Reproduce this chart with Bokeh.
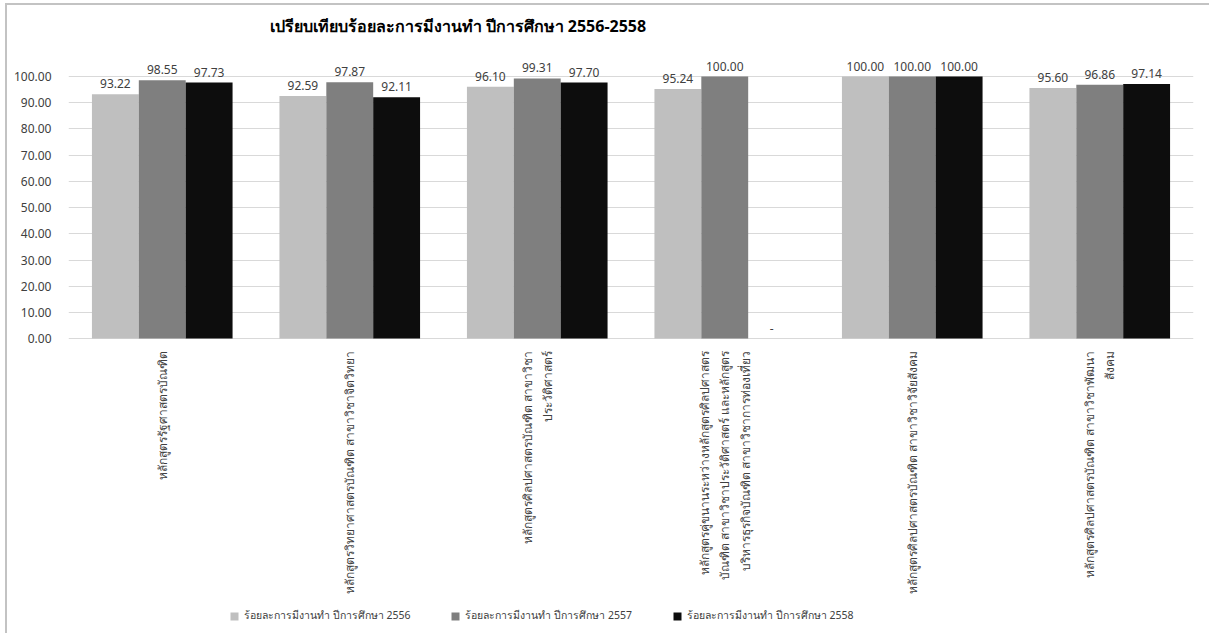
import math
from bokeh.plotting import figure
from bokeh.models import (ColumnDataSource, FactorRange, Range1d, FixedTicker, Legend, LegendItem,
                          NumeralTickFormatter)
from bokeh.transform import dodge
from bokeh.core.properties import value
from bokeh.embed import file_html
from bokeh.resources import INLINE

categories = [
    "หลักสูตรรัฐศาสตรบัณฑิต",
    "หลักสูตรวิทยาศาสตรบัณฑิต สาขาวิชาจิตวิทยา",
    "หลักสูตรศิลปศาสตรบัณฑิต สาขาวิชา\nประวัติศาสตร์",
    "หลักสูตรคู่ขนานระหว่างหลักสูตรศิลปศาสตร\nบัณฑิต สาขาวิชาประวัติศาสตร์ และหลักสูตร\nบริหารธุรกิจบัณฑิต สาขาวิชาการท่องเที่ยว",
    "หลักสูตรศิลปศาสตรบัณฑิต สาขาวิชาวิจัยสังคม",
    "หลักสูตรศิลปศาสตรบัณฑิต สาขาวิชาพัฒนา\nสังคม",
]
series_names = [
    "ร้อยละการมีงานทำ ปีการศึกษา 2556",
    "ร้อยละการมีงานทำ ปีการศึกษา 2557",
    "ร้อยละการมีงานทำ ปีการศึกษา 2558",
]
y2556 = [93.22, 92.59, 96.10, 95.24, 100.00, 95.60]
y2557 = [98.55, 97.87, 99.31, 100.00, 100.00, 96.86]
y2558 = [97.73, 92.11, 97.70, 0.0, 100.00, 97.14]
y_ticks = [0, 10, 20, 30, 40, 50, 60, 70, 80, 90, 100]
title_text = "เปรียบเทียบร้อยละการมีงานทำ ปีการศึกษา 2556-2558"

colors = ["#BFBFBF", "#7F7F7F", "#0D0D0D"]
FONT = "Noto Sans"

def fmt(v):
    return f"{v:.2f}" if v > 0 else "-"

src = ColumnDataSource(dict(
    cat=categories,
    zero=[0] * len(categories),
    a=y2556, b=y2557, c=y2558,
    la=[fmt(v) for v in y2556],
    lb=[fmt(v) for v in y2557],
    lc=[fmt(v) for v in y2558],
))

# frame extends below zero so that category labels and legend sit inside it
p = figure(
    x_range=FactorRange(*categories),
    y_range=Range1d(-111, 113),
    width=1204, height=630,
    output_backend="svg", toolbar_location=None,
    min_border_left=61, min_border_right=18, min_border_top=37, min_border_bottom=6,
)
p.margin = (3, 0, 0, 5)
p.styles = {"border-left": "2px solid #c3c3c3", "border-top": "2px solid #c3c3c3"}

p.title.text = title_text
p.title.text_font = FONT
p.title.text_font_size = "16px"
p.title.text_font_style = "bold"
p.title.text_color = "#000000"
p.title.align = "left"
p.title.offset = 201
p.title.standoff = 10
p.title.vertical_align = "middle"

items = []
for key, lab, off, col, name in [("a", "la", -0.25, colors[0], series_names[0]),
                                  ("b", "lb", 0.0, colors[1], series_names[1]),
                                  ("c", "lc", 0.25, colors[2], series_names[2])]:
    r = p.vbar(x=dodge("cat", off, range=p.x_range), top=key, width=0.25, source=src,
               fill_color=col, line_color=None)
    p.text(x=dodge("cat", off, range=p.x_range), y=key, text=lab, source=src,
           text_align="center", text_baseline="bottom", y_offset=-6,
           text_font=value(FONT), text_font_size="12px", text_color="#404040")
    items.append(LegendItem(label=name, renderers=[r]))

# category labels, rotated, below the baseline
p.text(x="cat", y="zero", text="cat", source=src, angle=math.pi / 2,
       text_align="right", text_baseline="middle", y_offset=12,
       text_font=value(FONT), text_font_size="12px", text_color="#404040")

legend = Legend(items=items, orientation="horizontal", location=(161, 5),
                label_text_font=FONT, label_text_font_size="10.5px", label_text_color="#404040",
                glyph_width=10, glyph_height=10, spacing=40, border_line_color=None,
                background_fill_alpha=0, margin=0, padding=4)
p.add_layout(legend, "center")

p.yaxis.ticker = FixedTicker(ticks=y_ticks)
p.yaxis.formatter = NumeralTickFormatter(format="0.00")
p.yaxis.axis_line_color = None
p.yaxis.major_tick_line_color = None
p.yaxis.minor_tick_line_color = None
p.yaxis.major_label_text_font = FONT
p.yaxis.major_label_text_font_size = "12px"
p.yaxis.major_label_text_color = "#404040"
p.yaxis.major_label_standoff = 11

p.xaxis.visible = False

p.xgrid.grid_line_color = None
p.ygrid.grid_line_color = "#D9D9D9"
p.outline_line_color = None

open("out.html", "w").write(file_html(p, INLINE))
